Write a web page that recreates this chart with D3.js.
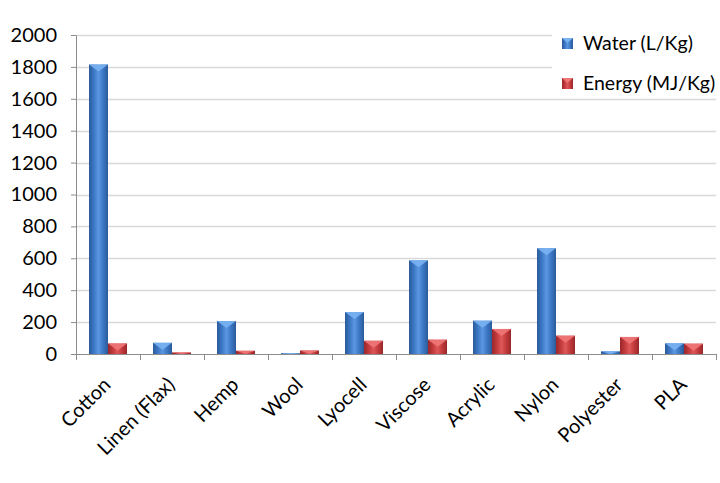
<!DOCTYPE html>
<html lang="en">
<head>
    <meta charset="UTF-8">
    <title>Water and Energy by Fibre</title>
    <style>
        html, body {
            margin: 0;
            background: #ffffff;
        }
        svg {
            display: block;
        }
    </style>
</head>
<body>
    <svg width="720" height="483"></svg>
    <script src="https://d3js.org/d3.v7.min.js"></script>
    <script>
        // data
        const fibres = ["Cotton", "Linen (Flax)", "Hemp", "Wool", "Lyocell", "Viscose", "Acrylic", "Nylon", "Polyester", "PLA"];
        const water = [1815, 70, 207, 5, 263, 587, 209, 663, 17, 67];
        const energy = [66, 10, 20, 22, 83, 90, 157, 115, 107, 65];
        const seriesNames = ["Water (L/Kg)", "Energy (MJ/Kg)"];
        const yTicks = [0, 200, 400, 600, 800, 1000, 1200, 1400, 1600, 1800, 2000];

        const rows = fibres.map((f, i) => ({ fibre: f, values: [water[i], energy[i]] }));

        const font = "Lato, 'Open Sans', sans-serif";
        const svg = d3.select("svg");
        const margin = { top: 35, right: 4, bottom: 129, left: 76 };
        const innerWidth = 720 - margin.left - margin.right;
        const innerHeight = 483 - margin.top - margin.bottom;

        const x = d3.scaleBand()
            .domain(fibres)
            .range([0, innerWidth])
            .paddingInner(0.406)
            .paddingOuter(0.203);

        const xs = d3.scaleBand()
            .domain([0, 1])
            .range([0, x.bandwidth()]);

        const y = d3.scaleLinear()
            .domain([0, 2000])
            .range([innerHeight, 0]);

        const colours = [
            { dark: "#2b5a99", mid: "#3b76c4", light: "#5a97e0", top: "#79b3f2" },
            { dark: "#992729", mid: "#c3393c", light: "#dd5759", top: "#f07778" }
        ];

        const defs = svg.append("defs");
        colours.forEach((c, i) => {
            const grad = defs.append("linearGradient")
                .attr("id", "bar" + i)
                .attr("x1", "0").attr("x2", "1").attr("y1", "0").attr("y2", "0");
            grad.append("stop").attr("offset", "0").attr("stop-color", c.dark);
            grad.append("stop").attr("offset", "0.25").attr("stop-color", c.mid);
            grad.append("stop").attr("offset", "0.5").attr("stop-color", c.light);
            grad.append("stop").attr("offset", "0.75").attr("stop-color", c.mid);
            grad.append("stop").attr("offset", "1").attr("stop-color", c.dark);
        });

        const g = svg.append("g")
            .attr("transform", `translate(${margin.left},${margin.top})`);

        // gridlines
        g.append("g")
            .selectAll("line")
            .data(yTicks.filter(d => d > 0))
            .join("line")
            .attr("x1", 0)
            .attr("x2", innerWidth)
            .attr("y1", d => Math.round(y(d)) + 0.5)
            .attr("y2", d => Math.round(y(d)) + 0.5)
            .attr("stroke", "#d9d9d9")
            .attr("stroke-width", 1.5);

        // y axis
        const yAxis = g.append("g")
            .attr("font-family", font)
            .attr("font-size", 20)
            .call(d3.axisLeft(y).tickValues(yTicks).tickFormat(d3.format("d")).tickSize(5).tickPadding(14))
            .attr("font-family", font)
            .attr("font-size", 20);
        yAxis.select(".domain").attr("stroke", "#8c8c8c");
        yAxis.selectAll(".tick line").attr("stroke", "#8c8c8c");
        yAxis.selectAll("text").attr("fill", "#000");

        // x axis: ticks between categories
        const bandStep = x.step();
        g.append("line")
            .attr("x1", 0).attr("x2", innerWidth)
            .attr("y1", innerHeight + 0.5).attr("y2", innerHeight + 0.5)
            .attr("stroke", "#8c8c8c");
        g.append("g")
            .selectAll("line")
            .data(d3.range(fibres.length + 1))
            .join("line")
            .attr("x1", i => Math.round(i * bandStep) + 0.5)
            .attr("x2", i => Math.round(i * bandStep) + 0.5)
            .attr("y1", innerHeight)
            .attr("y2", innerHeight + 6)
            .attr("stroke", "#8c8c8c");

        g.append("g")
            .attr("font-family", font)
            .attr("font-size", 20)
            .selectAll("text")
            .data(fibres)
            .join("text")
            .attr("transform", d => `translate(${x(d) + x.bandwidth() / 2 + 4},${innerHeight + 32}) rotate(-45)`)
            .attr("text-anchor", "end")
            .attr("fill", "#000")
            .text(d => d);

        // bars
        const groups = g.append("g")
            .selectAll("g")
            .data(rows)
            .join("g")
            .attr("transform", d => `translate(${x(d.fibre)},0)`);

        const bars = groups.selectAll("g")
            .data(d => d.values.map((v, i) => ({ v, i })))
            .join("g");

        bars.append("rect")
            .attr("x", d => xs(d.i))
            .attr("y", d => y(d.v))
            .attr("width", xs.bandwidth())
            .attr("height", d => innerHeight - y(d.v))
            .attr("fill", d => `url(#bar${d.i})`);

        // bevelled top highlight
        bars.append("path")
            .attr("d", d => {
                const x0 = xs(d.i), w = xs.bandwidth();
                const top = y(d.v);
                const h = Math.min(7, innerHeight - top);
                return `M${x0},${top}L${x0 + w},${top}L${x0 + w / 2},${top + h}Z`;
            })
            .attr("fill", d => colours[d.i].top)
            .attr("opacity", 0.9);

        // legend
        const legend = svg.append("g")
            .attr("transform", "translate(552,24)")
            .attr("font-family", font)
            .attr("font-size", 19.5);
        legend.append("rect")
            .attr("x", 0).attr("y", 0)
            .attr("width", 166).attr("height", 72)
            .attr("fill", "#fff");
        const items = legend.selectAll("g")
            .data(seriesNames)
            .join("g")
            .attr("transform", (d, i) => `translate(10,${19 + i * 40})`);
        items.append("rect")
            .attr("x", 0).attr("y", -5)
            .attr("width", 11).attr("height", 11)
            .attr("fill", (d, i) => `url(#bar${i})`);
        items.append("path")
            .attr("d", "M0,-5L11,-5L5.5,0Z")
            .attr("fill", (d, i) => colours[i].top);
        items.append("text")
            .attr("x", 21)
            .attr("y", 7)
            .attr("fill", "#000")
            .text(d => d);
    </script>
</body>
</html>
